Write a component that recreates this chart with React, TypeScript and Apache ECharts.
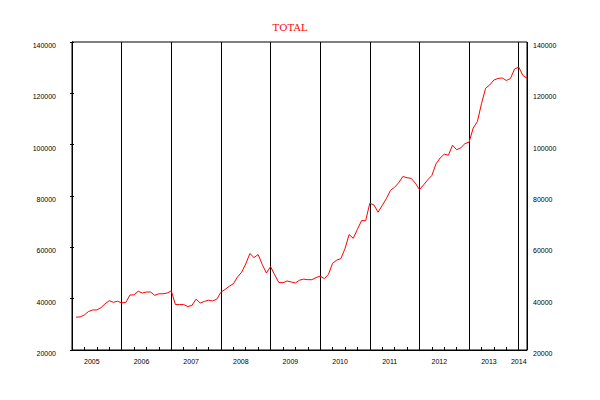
import React, { useEffect, useRef } from "react";
import * as echarts from "echarts";

// Monthly series, Feb 2005 .. Mar 2014
const startYear = 2005;
const startMonth = 2; // February
const totalValues = [
  32800, 32900, 33700, 35000, 35600, 35600, 36500, 38000, 39200, 38600, 39000,
  38400, 38500, 41400, 41500, 42900, 42200, 42600, 42600, 41300, 41900, 41900, 42200,
  43000, 37700, 37700, 37700, 36900, 37400, 39800, 38300, 38900, 39400, 39100, 39800,
  42500, 43600, 44800, 45800, 48400, 50300, 53500, 57600, 56000, 57200, 53300, 50000,
  52500, 49300, 46300, 46200, 46900, 46500, 46100, 47200, 47600, 47400, 47400, 48200,
  48800, 47800, 49500, 53800, 55000, 55600, 59500, 65000, 63500, 67000, 70400, 70400,
  77200, 76500, 73700, 76300, 79000, 82200, 83400, 85200, 87600, 87100, 86900, 85000,
  82500, 84300, 86300, 88000, 92500, 94800, 96300, 95900, 99800, 98000, 98800, 100400,
  101000, 106500, 109000, 116000, 122000, 123300, 125200, 125800, 126000, 125000, 125800, 129500,
  130200, 127000, 125800,
];
const yearLabels = ["2005", "2006", "2007", "2008", "2009", "2010", "2011", "2012", "2013", "2014"];
const yTicks = [20000, 40000, 60000, 80000, 100000, 120000, 140000];

export default function App() {
  const ref = useRef<HTMLDivElement>(null);
  useEffect(() => {
    document.body.style.margin = "0";
    if (!ref.current) return;
    const chart = echarts.init(ref.current, undefined, { renderer: "svg" });

    // month index: Jan 2005 = 0
    const data = totalValues.map((v, i) => [startMonth - 1 + i, v]);
    const maxX = startMonth - 1 + totalValues.length - 1;
    const labelPos = yearLabels.map((_, i) =>
      i === yearLabels.length - 1 ? i * 12 : i * 12 + 4.8
    );
    const font = "Liberation Sans";
    const yLabel = (margin: number) => ({
      color: "#000",
      fontFamily: font,
      fontSize: 7,
      margin,
      verticalAlign: "top",
      formatter: (v: number) => String(v),
    });

    chart.setOption({
      animation: false,
      backgroundColor: "#ffffff",
      grid: {
        left: 72,
        top: 42,
        width: 455,
        height: 308,
        show: true,
        borderColor: "#000",
        borderWidth: 1,
        backgroundColor: "transparent",
      },
      graphic: [
        {
          type: "text",
          x: 290,
          y: 27,
          style: {
            text: "TOTAL",
            fill: "#ff0000",
            font: '10px "DejaVu Serif"',
            align: "center",
            verticalAlign: "middle",
          },
        },
      ],
      xAxis: [
        {
          type: "value",
          min: 0,
          max: maxX,
          interval: 3,
          position: "bottom",
          axisLine: { show: true, lineStyle: { color: "#000", width: 1 } },
          axisTick: { show: true, inside: true, length: 3, lineStyle: { color: "#000" } },
          splitLine: { show: false },
          axisLabel: {
            show: true,
            customValues: labelPos,
            formatter: (v: number) => {
              const idx = labelPos.findIndex((p) => Math.abs(p - v) < 0.01);
              return idx >= 0 ? yearLabels[idx] : "";
            },
            color: "#000",
            fontFamily: font,
            fontSize: 7,
            margin: 8,
          },
        },
        {
          type: "value",
          min: 0,
          max: maxX,
          interval: 12,
          position: "top",
          axisLine: { show: false },
          axisTick: { show: false },
          axisLabel: { show: false },
          splitLine: { show: true, lineStyle: { color: "#000", width: 1 } },
        },
      ],
      yAxis: [
        {
          type: "value",
          position: "left",
          min: yTicks[0],
          max: yTicks[yTicks.length - 1],
          interval: 20000,
          axisLine: { show: true, lineStyle: { color: "#000" } },
          axisTick: { show: true, inside: true, length: 2, lineStyle: { color: "#000" } },
          splitLine: { show: false },
          axisLabel: yLabel(16),
        },
        {
          type: "value",
          position: "right",
          min: yTicks[0],
          max: yTicks[yTicks.length - 1],
          interval: 20000,
          axisLine: { show: true, lineStyle: { color: "#000" } },
          axisTick: { show: true, inside: true, length: 2, lineStyle: { color: "#000" } },
          splitLine: { show: false },
          axisLabel: yLabel(6),
        },
      ],
      series: [
        {
          type: "line",
          name: "TOTAL",
          xAxisIndex: 0,
          yAxisIndex: 0,
          data,
          showSymbol: false,
          symbol: "none",
          lineStyle: { color: "#ff0000", width: 1 },
          itemStyle: { color: "#ff0000" },
        },
      ],
    });
    return () => chart.dispose();
  }, []);
  return <div ref={ref} style={{ width: 600, height: 400 }} />;
}
